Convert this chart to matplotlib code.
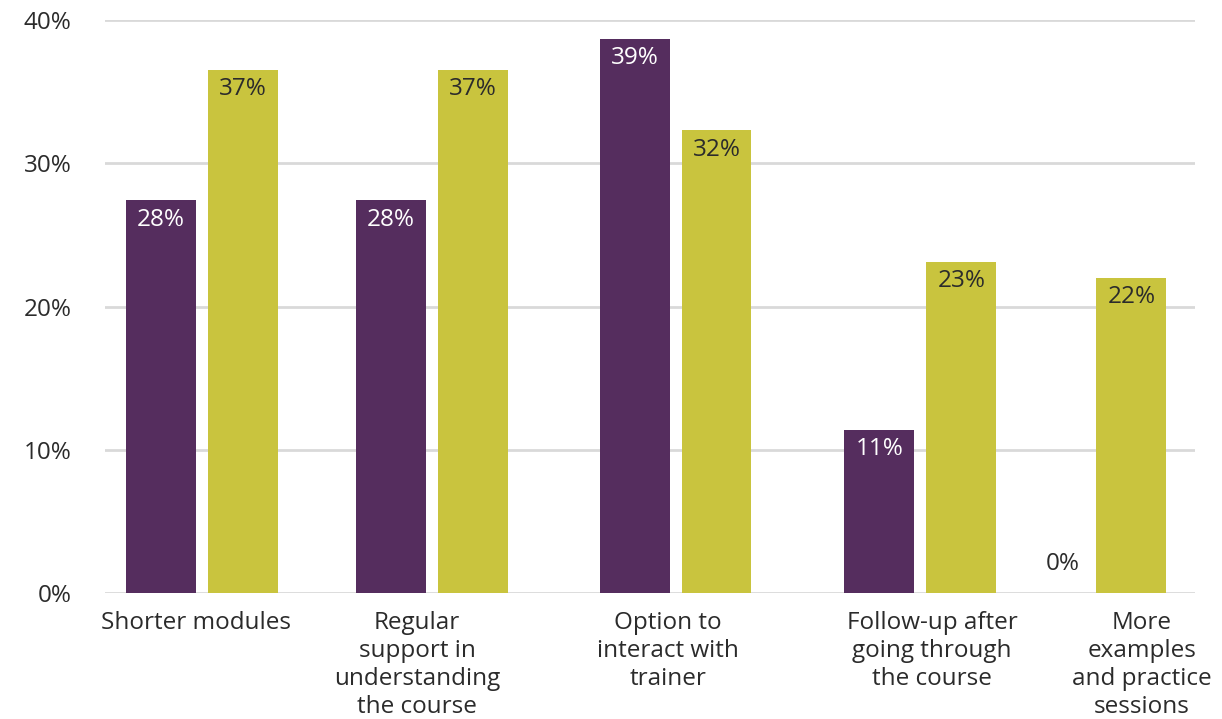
import matplotlib
matplotlib.use("Agg")
import matplotlib.pyplot as plt

categories = ["Shorter modules",
              "Regular\nsupport in\nunderstanding\nthe course",
              "Option to\ninteract with\ntrainer",
              "Follow-up after\ngoing through\nthe course",
              "More\nexamples\nand practice\nsessions"]
series_a = [27.4, 27.4, 38.7, 11.4, 0.0]
series_b = [36.5, 36.5, 32.3, 23.1, 22.0]
labels_a = ["28%", "28%", "39%", "11%", "0%"]
labels_b = ["37%", "37%", "32%", "23%", "22%"]
yticks = [0, 10, 20, 30, 40]

# layout (irregular group spacing as in the reference)
group_pos = [0.445, 1.498, 2.617, 3.74, 4.52]
label_pos = [0.417, 1.431, 2.583, 3.794, 4.757]
half_gap = 0.188
bar_w = 0.321

purple = "#552D5E"
olive = "#C9C43E"
txt = "#2b2b2b"
fs = 17.5

plt.rcParams['font.family'] = ['Open Sans', 'DejaVu Sans']

fig = plt.figure(figsize=(12.22, 7.19), dpi=100)
ax = fig.add_axes([105/1222, 1-593/719, 1090/1222, 573/719])
ax.set_xlim(0, 5)
ax.set_ylim(0, 40)

for v in yticks:
    ax.axhline(v, color="#d9d9d9", lw=2, zorder=0)

xa = [g - half_gap for g in group_pos]
xb = [g + half_gap for g in group_pos]
ax.bar(xa, series_a, width=bar_w, color=purple, zorder=2)
ax.bar(xb, series_b, width=bar_w, color=olive, zorder=2)

for x, v, l in zip(xa, series_a, labels_a):
    if v > 3:
        ax.text(x, v - 1.35, l, ha="center", va="center", color="white", fontsize=fs, zorder=3)
    else:
        ax.text(x + 0.06, v + 2.0, l, ha="center", va="center", color=txt, fontsize=fs, zorder=3)
for x, v, l in zip(xb, series_b, labels_b):
    ax.text(x, v - 1.35, l, ha="center", va="center", color=txt, fontsize=fs, zorder=3)

ax.set_yticks(yticks)
ax.set_yticklabels([f"{v}%" for v in yticks], fontsize=fs, color=txt)
ax.tick_params(axis="y", length=0, pad=24)
ax.set_xticks(label_pos)
ax.set_xticklabels(categories, fontsize=fs, color=txt, linespacing=1.22, va="top")
ax.tick_params(axis="x", length=0, pad=13)
for s in ax.spines.values():
    s.set_visible(False)

fig.savefig("out.png", dpi=100)
